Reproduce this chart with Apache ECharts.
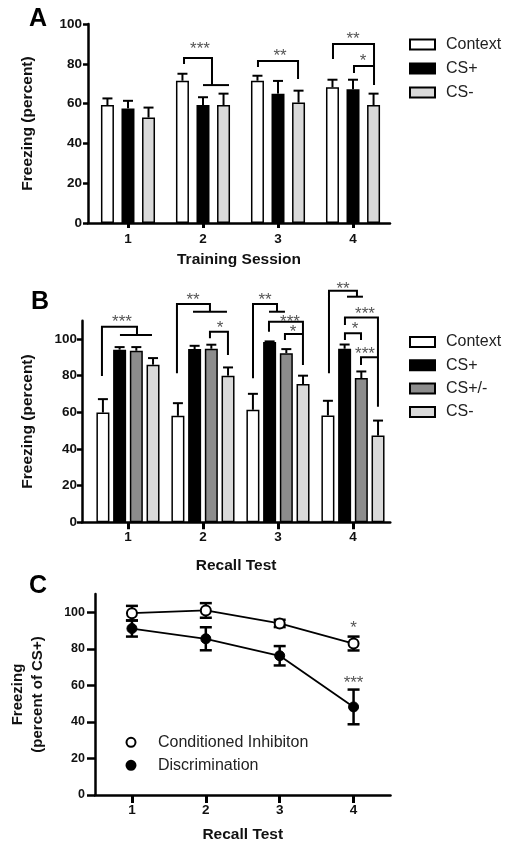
<!DOCTYPE html>
<html><head><meta charset="utf-8">
<script src="https://cdn.jsdelivr.net/npm/echarts@6/dist/echarts.min.js"></script>
<style>html,body{margin:0;padding:0;background:#fff}#c{width:512px;height:849px}</style>
</head><body><div id="c"></div>
<script>
// ---------- data ----------
const sessions = [1, 2, 3, 4];
const sessionLabels = ['1', '2', '3', '4'];
const yTicksA = [0, 20, 40, 60, 80, 100];
const yTicksB = [0, 20, 40, 60, 80, 100];
const yTicksC = [0, 20, 40, 60, 80, 100];

// Panel A (Training Session)
const trainContext = [59.3, 71.5, 71.5, 68.2];
const trainContextErr = [3.3, 3.5, 2.5, 3.8];
const trainCSplus = [57.6, 59.3, 65.0, 67.2];
const trainCSplusErr = [3.8, 3.9, 6.4, 4.8];
const trainCSminus = [53.0, 59.3, 60.5, 59.3];
const trainCSminusErr = [5.0, 5.7, 6.0, 5.7];

// Panel B (Recall Test)
const recallContext = [59.9, 58.1, 61.4, 58.3];
const recallContextErr = [7.3, 6.9, 8.7, 8.0];
const recallCSplus = [94.2, 94.5, 98.4, 94.7];
const recallCSplusErr = [1.4, 1.8, 0.3, 2.3];
const recallCSpm = [93.6, 94.7, 92.3, 78.7];
const recallCSpmErr = [2.0, 2.2, 2.2, 3.6];
const recallCSminus = [86.0, 80.0, 75.4, 47.3];
const recallCSminusErr = [3.6, 4.5, 4.6, 8.2];

// Panel C (percent of CS+)
const ciMean = [99.5, 101.0, 93.9, 82.9];
const ciErr = [4.0, 4.0, 2.0, 3.8];
const discMean = [91.1, 85.5, 76.2, 48.2];
const discErr = [4.4, 6.3, 5.3, 9.5];

// significance annotations, in data units (x = session, y = value)
const sigA = [
  {stars: '***', at: [1.96, 89.4], lines: [[[1.747, 79.9], [1.747, 82.9], [2.12, 82.9], [2.12, 69.3]], [[2.0, 69.3], [2.347, 69.3]]]},
  {stars: '**', at: [3.027, 85.9], lines: [[[2.733, 78.4], [2.733, 81.4], [3.267, 81.4], [3.267, 72.4]]]},
  {stars: '**', at: [4.0, 94.5], lines: [[[3.733, 82.4], [3.733, 90], [4.28, 90], [4.28, 69.3]]]},
  {stars: '*', at: [4.133, 83.4], lines: [[[4.013, 75.4], [4.013, 78.9], [4.28, 78.9]]]}
];
const sigB = [
  {stars: '***', at: [0.92, 111.5], lines: [[[0.653, 79.8], [0.653, 106.7], [1.12, 106.7], [1.12, 102.2]], [[0.893, 102.2], [1.32, 102.2]]]},
  {stars: '**', at: [1.867, 123.5], lines: [[[1.653, 81.3], [1.653, 119.1], [2.093, 119.1], [2.093, 114.9]], [[1.867, 114.9], [2.32, 114.9]]]},
  {stars: '*', at: [2.227, 108.2], lines: [[[2.093, 100.4], [2.093, 104], [2.333, 104], [2.333, 91.3]]]},
  {stars: '**', at: [2.827, 123.5], lines: [[[2.667, 78.6], [2.667, 119.1], [2.987, 119.1], [2.987, 114.9]], [[2.88, 114.9], [3.093, 114.9]]]},
  {stars: '***', at: [3.16, 111.3], lines: [[[2.88, 104], [2.88, 109.4], [3.333, 109.4], [3.333, 85.8]]]},
  {stars: '*', at: [3.2, 105.8], lines: [[[3.093, 99.5], [3.093, 102.7], [3.333, 102.7]]]},
  {stars: '**', at: [3.867, 129.5], lines: [[[3.68, 81.3], [3.68, 126.4], [4.053, 126.4], [4.053, 123.1]], [[3.92, 123.1], [4.133, 123.1]]]},
  {stars: '***', at: [4.16, 115.4], lines: [[[3.893, 107.6], [3.893, 111.8], [4.333, 111.8], [4.333, 63.1]]]},
  {stars: '*', at: [4.027, 107.6], lines: [[[3.893, 99.5], [3.893, 103.1], [4.107, 103.1], [4.107, 99.5]]]},
  {stars: '***', at: [4.16, 94], lines: [[[4.107, 85.8], [4.107, 90], [4.333, 90]]]}
];
const sigC = [
  {stars: '*', at: [4, 93.2], lines: []},
  {stars: '***', at: [4, 63.4], lines: []}
];

// ---------- helpers ----------
const FONT = '"Liberation Sans", Arial, sans-serif';
const BAR_W = 13;

function pairs(values) { return sessions.map((s, i) => [s, values[i]]); }
function triples(values, errs) { return sessions.map((s, i) => [s, values[i], errs[i]]); }

function barErrSeries(grid, values, errs, idx, n, gap) {
  const off = (idx - (n - 1) / 2) * BAR_W * (1 + gap);
  return {
    type: 'custom', xAxisIndex: grid, yAxisIndex: grid, z: 4,
    data: triples(values, errs), encode: {x: 0, y: 1},
    renderItem: function (params, api) {
      const x = api.value(0), m = api.value(1), e = api.value(2);
      const b = api.coord([x, m]), t = api.coord([x, m + e]);
      const cx = b[0] + off;
      return {type: 'group', children: [
        {type: 'line', shape: {x1: cx, y1: b[1], x2: cx, y2: t[1]}, style: {stroke: '#000', lineWidth: 2}},
        {type: 'line', shape: {x1: cx - 5, y1: t[1], x2: cx + 5, y2: t[1]}, style: {stroke: '#000', lineWidth: 2}}
      ]};
    }
  };
}
function pointErrSeries(grid, values, errs) {
  return {
    type: 'custom', xAxisIndex: grid, yAxisIndex: grid, z: 1,
    data: triples(values, errs), encode: {x: 0, y: 1},
    renderItem: function (params, api) {
      const x = api.value(0), m = api.value(1), e = api.value(2);
      const t = api.coord([x, m + e]), b = api.coord([x, m - e]);
      const st = {stroke: '#000', lineWidth: 2.5};
      return {type: 'group', children: [
        {type: 'line', shape: {x1: t[0], y1: t[1], x2: b[0], y2: b[1]}, style: st},
        {type: 'line', shape: {x1: t[0] - 6, y1: t[1], x2: t[0] + 6, y2: t[1]}, style: st},
        {type: 'line', shape: {x1: b[0] - 6, y1: b[1], x2: b[0] + 6, y2: b[1]}, style: st}
      ]};
    }
  };
}
function sigSeries(grid, list) {
  return {
    type: 'custom', xAxisIndex: grid, yAxisIndex: grid, z: 5, clip: false,
    data: list.map(s => s.at), encode: {x: 0, y: 1},
    renderItem: function (params, api) {
      const s = list[params.dataIndex];
      const children = s.lines.map(pts => ({
        type: 'polyline', shape: {points: pts.map(p => api.coord(p))},
        style: {stroke: '#000', lineWidth: 2, fill: 'none'}
      }));
      const p = api.coord(s.at);
      children.push({type: 'text', x: p[0], y: p[1] + 4,
        style: {text: s.stars, fill: '#555', font: '17px ' + FONT, align: 'center', verticalAlign: 'middle'}});
      return {type: 'group', children: children};
    }
  };
}
function barSeries(name, grid, values, color, gap) {
  return {
    name: name, type: 'bar', xAxisIndex: grid, yAxisIndex: grid, z: 2,
    barWidth: BAR_W, barGap: (gap * 100) + '%',
    data: pairs(values),
    itemStyle: {color: color, borderColor: '#000', borderWidth: 1.5}
  };
}
function xAxisCfg(grid, min, max, name, nameGap, tickLen, labelMargin) {
  return {
    type: 'value', gridIndex: grid, min: min, max: max,
    name: name, nameLocation: 'middle', nameGap: nameGap,
    nameTextStyle: {fontSize: 15.5, fontWeight: 'bold', color: '#111', fontFamily: FONT},
    splitLine: {show: false},
    axisLine: {onZero: false, lineStyle: {color: '#000', width: 2.5}},
    axisTick: {customValues: sessions, length: tickLen, lineStyle: {color: '#000', width: 3}},
    axisLabel: {customValues: sessions, formatter: v => sessionLabels[sessions.indexOf(v)],
      fontSize: 13.5, fontWeight: 'bold', color: '#111', margin: labelMargin, fontFamily: FONT}
  };
}
function yAxisCfg(grid, max, ticks, name, nameGap, labelSize, labelMargin, tickLen, nameStyle) {
  return {
    type: 'value', gridIndex: grid, min: 0, max: max,
    name: name, nameLocation: 'middle', nameGap: nameGap,
    nameTextStyle: Object.assign({fontSize: 15.5, fontWeight: 'bold', color: '#111', fontFamily: FONT}, nameStyle || {}),
    splitLine: {show: false},
    axisLine: {show: true, onZero: false, lineStyle: {color: '#000', width: 2.5}},
    axisTick: {show: true, customValues: ticks, length: tickLen, lineStyle: {color: '#000', width: 2.5}},
    axisLabel: {customValues: ticks, fontSize: labelSize, fontWeight: 'bold', color: '#111', margin: labelMargin, fontFamily: FONT}
  };
}

const GAP_A = 0.58, GAP_B = 0.285;
const legendText = {fontSize: 16, color: '#222', fontFamily: FONT, padding: [0, 0, 0, 6]};

const option = {
  animation: false,
  backgroundColor: '#fff',
  textStyle: {fontFamily: FONT},
  grid: [
    {left: 88, top: 24, width: 302, height: 199},
    {left: 82, top: 320.7, width: 308.25, height: 201.6},
    {left: 90.5, top: 594, width: 300, height: 201}
  ],
  xAxis: [
    xAxisCfg(0, 0.467, 4.493, 'Training Session', 29, 5, 9),
    xAxisCfg(1, 0.387, 4.497, 'Recall Test', 35, 7, 8),
    xAxisCfg(2, 0.5, 4.5, 'Recall Test', 32, 8, 8.5)
  ],
  yAxis: [
    yAxisCfg(0, 100, yTicksA, 'Freezing (percent)', 52, 13.5, 6, 5),
    yAxisCfg(1, 110, yTicksB, 'Freezing (percent)', 46, 13.5, 5, 5),
    yAxisCfg(2, 110, yTicksC, 'Freezing\n(percent of CS+)', 47, 12.5, 10, 8, {fontSize: 15, lineHeight: 20})
  ],
  legend: [
    {orient: 'vertical', left: 409, top: 36.5, padding: 0, itemWidth: 25, itemHeight: 10, itemGap: 8,
     icon: 'rect', selectedMode: false, data: ['Context', 'CS+', 'CS-'], textStyle: legendText,
     itemStyle: {borderWidth: 2}},
    {orient: 'vertical', left: 409, top: 334, padding: 0, itemWidth: 25, itemHeight: 10, itemGap: 7.3,
     icon: 'rect', selectedMode: false, data: ['Context ', 'CS+ ', 'CS+/-', 'CS- '], textStyle: legendText,
     itemStyle: {borderWidth: 2}, formatter: n => n.trim()},
    {orient: 'vertical', left: 125.5, top: 734.3, padding: 0, itemWidth: 9, itemHeight: 9, itemGap: 7,
     icon: 'circle', selectedMode: false, data: ['Conditioned Inhibiton', 'Discrimination'],
     textStyle: {fontSize: 16, color: '#222', fontFamily: FONT, padding: [0, 0, 0, 17.5]},
     itemStyle: {borderWidth: 2}}
  ],
  graphic: [
    {type: 'text', left: 29, top: 7, style: {text: 'A', font: 'bold 25px ' + FONT, fill: '#000'}},
    {type: 'text', left: 31, top: 290, style: {text: 'B', font: 'bold 25px ' + FONT, fill: '#000'}},
    {type: 'text', left: 29, top: 574, style: {text: 'C', font: 'bold 25px ' + FONT, fill: '#000'}}
  ],
  series: [
    barSeries('Context', 0, trainContext, '#ffffff', GAP_A),
    barSeries('CS+', 0, trainCSplus, '#000000', GAP_A),
    barSeries('CS-', 0, trainCSminus, '#d9d9d9', GAP_A),
    barErrSeries(0, trainContext, trainContextErr, 0, 3, GAP_A),
    barErrSeries(0, trainCSplus, trainCSplusErr, 1, 3, GAP_A),
    barErrSeries(0, trainCSminus, trainCSminusErr, 2, 3, GAP_A),
    sigSeries(0, sigA),

    barSeries('Context ', 1, recallContext, '#ffffff', GAP_B),
    barSeries('CS+ ', 1, recallCSplus, '#000000', GAP_B),
    barSeries('CS+/-', 1, recallCSpm, '#8c8c8c', GAP_B),
    barSeries('CS- ', 1, recallCSminus, '#d9d9d9', GAP_B),
    barErrSeries(1, recallContext, recallContextErr, 0, 4, GAP_B),
    barErrSeries(1, recallCSplus, recallCSplusErr, 1, 4, GAP_B),
    barErrSeries(1, recallCSpm, recallCSpmErr, 2, 4, GAP_B),
    barErrSeries(1, recallCSminus, recallCSminusErr, 3, 4, GAP_B),
    sigSeries(1, sigB),

    pointErrSeries(2, ciMean, ciErr),
    pointErrSeries(2, discMean, discErr),
    {name: 'Conditioned Inhibiton', type: 'line', xAxisIndex: 2, yAxisIndex: 2, z: 3,
     data: pairs(ciMean), symbol: 'circle', symbolSize: 10,
     itemStyle: {color: '#ffffff', borderColor: '#000', borderWidth: 2},
     lineStyle: {color: '#000', width: 1.8}},
    {name: 'Discrimination', type: 'line', xAxisIndex: 2, yAxisIndex: 2, z: 3,
     data: pairs(discMean), symbol: 'circle', symbolSize: 10,
     itemStyle: {color: '#000000', borderColor: '#000', borderWidth: 1},
     lineStyle: {color: '#000', width: 1.8}},
    sigSeries(2, sigC)
  ]
};

const chart = echarts.init(document.getElementById('c'), null, {renderer: 'canvas'});
chart.setOption(option);
</script>
</body></html>
